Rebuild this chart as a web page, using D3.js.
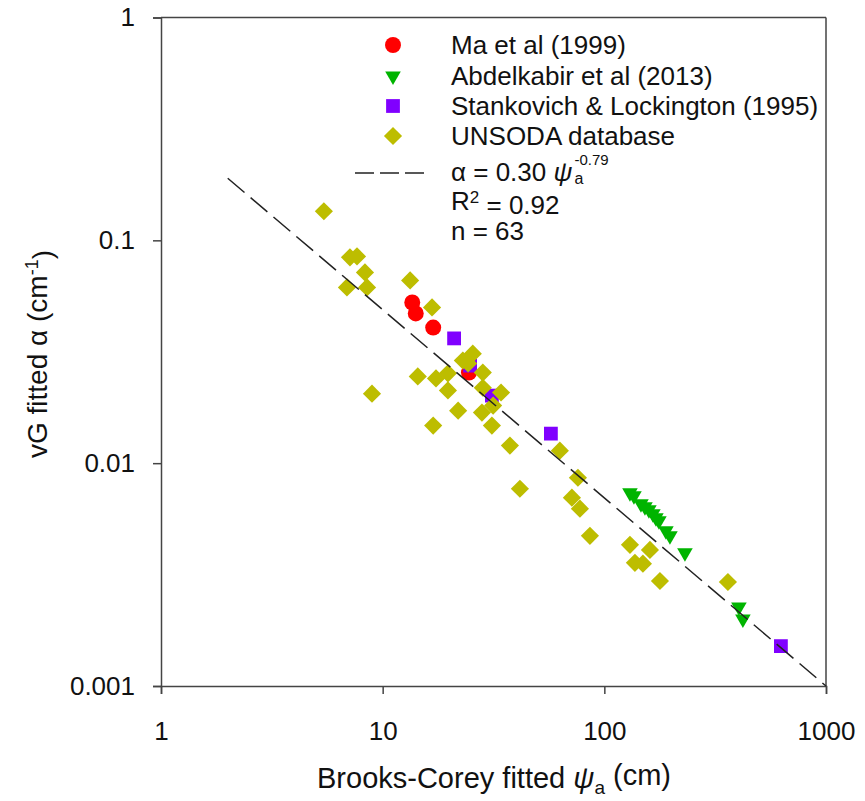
<!DOCTYPE html>
<html>
<head>
<meta charset="utf-8">
<script src="https://cdn.jsdelivr.net/npm/d3@7"></script>
<style>
  body { margin: 0; background: #fff; }
  svg { font-family: "Liberation Sans", Arial, sans-serif; }
</style>
</head>
<body>
<svg width="865" height="801"></svg>
<script>
// tick values and labels
const xTicks = [1, 10, 100, 1000];
const xTickLabels = ["1", "10", "100", "1000"];
const yTicks = [0.001, 0.01, 0.1, 1];
const yTickLabels = ["0.001", "0.01", "0.1", "1"];

// Ma et al (1999)
const maX = [13.6, 14.1, 16.9, 24.5];
const maY = [0.0526, 0.047, 0.0406, 0.0255];

// Abdelkabir et al (2013)
const abX = [130.5, 136, 146.3, 152.5, 158.9, 165.6, 170.9, 176.3, 189.6, 197.7, 231, 404.7, 421.8];
const abY = [0.00737, 0.00714, 0.00658, 0.00637, 0.00618, 0.00593, 0.00569, 0.00551, 0.00497, 0.00472, 0.00396, 0.00226, 0.0020];

// Stankovich & Lockington (1995)
const stX = [21.0, 24.8, 31.1, 57.4, 626];
const stY = [0.0363, 0.0274, 0.0201, 0.01357, 0.00151];

// UNSODA database
const unX = [5.43, 7.12, 7.66, 8.32, 6.90, 8.50, 13.3, 16.7, 8.95, 14.4, 17.4, 19.7, 19.7, 21.9, 16.9,
             23.0, 25.5, 28.3, 28.3, 28.05, 31.1, 31.5, 34.2, 37.5, 41.6, 63.0, 76.0, 71.4, 77.6, 86.1,
             130.5, 160.6, 137.4, 149.3, 178.2, 361, 24.3];
const unY = [0.135, 0.0839, 0.0847, 0.0718, 0.0615, 0.0615, 0.0661, 0.050, 0.0205, 0.0245, 0.0240, 0.0253, 0.0212, 0.0172, 0.01474,
             0.0289, 0.0310, 0.0255, 0.0218, 0.01686, 0.01474, 0.01813, 0.02075, 0.01199, 0.00768, 0.01138, 0.0086, 0.0070, 0.00625, 0.00472,
             0.0043, 0.00408, 0.00357, 0.00354, 0.00296, 0.00293, 0.028];

// fitted power law, drawn end points
const fitX = [2, 1000];
const fitY = [0.19, 0.001];

const legendLabels = ["Ma et al (1999)", "Abdelkabir et al (2013)", "Stankovich & Lockington (1995)", "UNSODA database"];

const colors = { ma: "#ff0000", ab: "#00b400", st: "#8000ff", un: "#bdbd00" };

const svg = d3.select("svg");
const pLeft = 161, pRight = 826, pTop = 17.5, pBottom = 686;

const x = d3.scaleLog().domain([1, 1000]).range([pLeft, pRight]);
const y = d3.scaleLog().domain([0.001, 1]).range([pBottom, pTop]);

const zip = (xs, ys) => xs.map((v, i) => ({ x: v, y: ys[i] }));

const axisColor = "#444";

// frame lines (top, right)
svg.append("line").attr("x1", pLeft).attr("x2", pRight).attr("y1", pTop).attr("y2", pTop)
  .attr("stroke", axisColor).attr("stroke-width", 1.5);
svg.append("line").attr("x1", pRight).attr("x2", pRight).attr("y1", pTop).attr("y2", pBottom)
  .attr("stroke", axisColor).attr("stroke-width", 1.5);

const xAxis = svg.append("g")
  .attr("transform", `translate(0,${pBottom})`)
  .call(d3.axisBottom(x).tickValues(xTicks).tickFormat((d, i) => xTickLabels[i]).tickSize(8).tickPadding(28));

const yAxis = svg.append("g")
  .attr("transform", `translate(${pLeft},0)`)
  .call(d3.axisLeft(y).tickValues(yTicks).tickFormat((d, i) => yTickLabels[i]).tickSize(8).tickPadding(18));

[xAxis, yAxis].forEach(a => {
  a.select(".domain").attr("stroke", axisColor).attr("stroke-width", 1.5);
  a.selectAll(".tick line").attr("stroke", axisColor).attr("stroke-width", 1.5);
  a.selectAll(".tick text").attr("fill", "#111").style("font-size", "26px")
    .style("font-family", "'Liberation Sans', Arial, sans-serif");
});

const plot = svg.append("g");

const circle = d3.symbol().type(d3.symbolCircle).size(200);
const tri = d3.symbol().type(d3.symbolTriangle).size(105);
const sq = d3.symbol().type(d3.symbolSquare).size(190);
const dia = d3.symbol().type(d3.symbolSquare).size(165);

plot.selectAll(".ma").data(zip(maX, maY)).join("path").attr("class", "ma")
  .attr("d", circle).attr("fill", colors.ma)
  .attr("transform", d => `translate(${x(d.x)},${y(d.y)})`);

plot.selectAll(".ab").data(zip(abX, abY)).join("path").attr("class", "ab")
  .attr("d", tri).attr("fill", colors.ab)
  .attr("transform", d => `translate(${x(d.x)},${y(d.y)}) rotate(180)`);

plot.selectAll(".st").data(zip(stX, stY)).join("path").attr("class", "st")
  .attr("d", sq).attr("fill", colors.st)
  .attr("transform", d => `translate(${x(d.x)},${y(d.y)})`);

plot.selectAll(".un").data(zip(unX, unY)).join("path").attr("class", "un")
  .attr("d", dia).attr("fill", colors.un)
  .attr("transform", d => `translate(${x(d.x)},${y(d.y)}) rotate(45)`);

// fit line
plot.append("path")
  .datum(zip(fitX, fitY))
  .attr("fill", "none")
  .attr("stroke", "#222")
  .attr("stroke-width", 1.5)
  .attr("stroke-dasharray", "22,8")
  .attr("d", d3.line().x(d => x(d.x)).y(d => y(d.y)));

// legend
const legX = 393, textX = 451;
const rowY = [45, 76, 106, 136];
const legSyms = [
  { p: circle, c: colors.ma, r: 0 },
  { p: tri, c: colors.ab, r: 180 },
  { p: sq, c: colors.st, r: 0 },
  { p: dia, c: colors.un, r: 45 }
];
const legend = svg.append("g");
legSyms.forEach((s, i) => {
  legend.append("path").attr("d", s.p).attr("fill", s.c)
    .attr("transform", `translate(${legX},${rowY[i]}) rotate(${s.r})`);
  legend.append("text").attr("x", textX).attr("y", rowY[i]).attr("dy", "0.36em")
    .style("font-size", "26px").attr("fill", "#111").text(legendLabels[i]);
});

legend.append("line").attr("x1", 355).attr("x2", 425).attr("y1", 173).attr("y2", 173)
  .attr("stroke", "#222").attr("stroke-width", 1.5).attr("stroke-dasharray", "19,6");

const eq = legend.append("text").attr("x", textX).attr("y", 172).attr("dy", "0.36em")
  .style("font-size", "26px").attr("fill", "#111");
eq.append("tspan").text("α = 0.30 ");
eq.append("tspan").style("font-style", "italic").text("ψ");
const eqW = eq.node().getComputedTextLength();
legend.append("text").attr("x", textX + eqW + 2).attr("y", 183.5)
  .style("font-size", "16px").attr("fill", "#111").text("a");
legend.append("text").attr("x", textX + eqW + 2).attr("y", 165)
  .style("font-size", "15px").attr("fill", "#111").text("-0.79");

const r2 = legend.append("text").attr("x", textX).attr("y", 201).attr("dy", "0.36em")
  .style("font-size", "26px").attr("fill", "#111");
r2.append("tspan").text("R");
r2.append("tspan").attr("dy", "-0.45em").style("font-size", "17px").text("2");
r2.append("tspan").attr("dy", "0.45em").text(" = 0.92");

legend.append("text").attr("x", textX).attr("y", 231).attr("dy", "0.36em")
  .style("font-size", "26px").attr("fill", "#111").text("n = 63");

// axis titles
const xt = svg.append("text").attr("x", 494).attr("y", 788).attr("text-anchor", "middle")
  .style("font-size", "29px").attr("fill", "#111");
xt.append("tspan").text("Brooks-Corey fitted ");
xt.append("tspan").style("font-style", "italic").text("ψ");
xt.append("tspan").attr("dy", "0.3em").style("font-size", "19px").text("a");
xt.append("tspan").attr("dy", "-0.3em").text(" (cm)");

const yt = svg.append("text").attr("transform", "translate(47,354) rotate(-90)")
  .attr("text-anchor", "middle").style("font-size", "28px").attr("fill", "#111");
yt.append("tspan").text("vG fitted α (cm");
yt.append("tspan").attr("dy", "-0.5em").style("font-size", "18px").text("-1");
yt.append("tspan").attr("dy", "0.5em").text(")");
</script>
</body>
</html>
